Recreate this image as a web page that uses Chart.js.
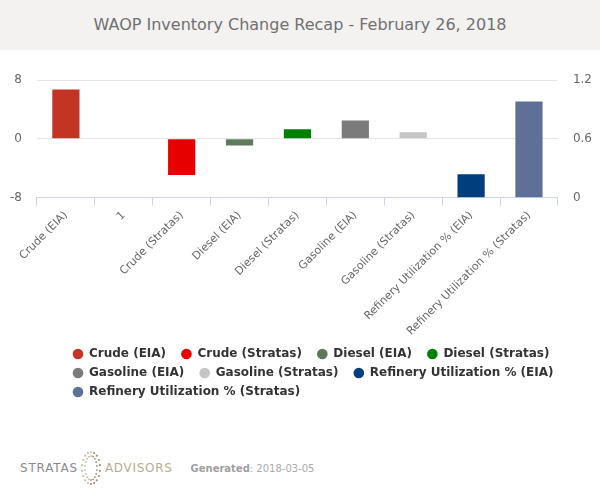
<!DOCTYPE html>
<html>
<head>
<meta charset="utf-8">
<title>WAOP Inventory Change Recap</title>
<script src="https://cdn.jsdelivr.net/npm/chart.js@4.4.1/dist/chart.umd.min.js"></script>
<style>
  body {
    margin: 0;
    width: 600px;
    height: 500px;
    background: #fff;
    font-family: "DejaVu Sans", sans-serif;
    overflow: hidden;
  }
  #header {
    height: 50px;
    line-height: 50px;
    background: #f3f2f1;
    color: #707070;
    font-size: 16px;
    text-align: center;
  }
  #chartWrap {
    position: relative;
    width: 600px;
    height: 362px;
  }
  #footer {
    position: absolute;
    left: 20px;
    top: 450px;
    height: 36px;
    display: flex;
    align-items: center;
    font-size: 12px;
  }
  .brand1 { color: #8a8a8a; letter-spacing: 0.8px; }
  .brand2 { color: #b8ab93; letter-spacing: 0.7px; }
  .gen { color: #aaa; font-size: 10px; margin-left: 18px; }
  .gen b { color: #a0a0a0; }
</style>
</head>
<body>
<div id="header">WAOP Inventory Change Recap - February 26, 2018</div>
<div id="chartWrap"><canvas id="recapChart"></canvas></div>
<div id="footer">
  <span class="brand1">STRATAS</span>
  <svg id="logo" width="22" height="36" viewBox="0 0 22 36" style="margin:0 3px 0 2px"></svg>
  <span class="brand2">ADVISORS</span>
  <span class="gen"><b>Generated</b>: 2018-03-05</span>
</div>

<script>
// Categories on the x axis (the "1" slot is empty in the source chart)
const categories = [
  "Crude (EIA)", "1", "Crude (Stratas)", "Diesel (EIA)", "Diesel (Stratas)",
  "Gasoline (EIA)", "Gasoline (Stratas)",
  "Refinery Utilization % (EIA)", "Refinery Utilization % (Stratas)"
];

// One series per bar, each sits on the category with the same name
const seriesNames = [
  "Crude (EIA)", "Crude (Stratas)", "Diesel (EIA)", "Diesel (Stratas)",
  "Gasoline (EIA)", "Gasoline (Stratas)",
  "Refinery Utilization % (EIA)", "Refinery Utilization % (Stratas)"
];
const seriesValues = [6.7, -4.9, -0.9, 1.3, 2.5, 0.9, 0.24, 0.98];
const seriesAxis = ["y", "y", "y", "y", "y", "y", "y1", "y1"];
const seriesColors = [
  "#c23524", "#e60000", "#5d7a5d", "#008000",
  "#7b7b7b", "#c6c6c6", "#003e7e", "#5f7098"
];

// Tick values for both value axes
const leftTicks = [-8, 0, 8];
const rightTicks = [0, 0.6, 1.2];

// Small dotted ring for the footer logo
(function drawLogo() {
  const svg = document.getElementById("logo");
  let html = "";
  [[9, 16, 1.1], [6, 12, 0.9]].forEach(([rx, ry, r]) => {
    for (let k = 0; k < 18; k++) {
      const a = (k / 18) * Math.PI * 2;
      if (Math.abs(Math.cos(a)) < 0.15) continue; // gaps top and bottom
      const x = 11 + rx * Math.sin(a);
      const y = 18 - ry * Math.cos(a);
      const col = Math.sin(a) > 0 ? "#a1907a" : "#c8bca8";
      html += `<circle cx="${x.toFixed(1)}" cy="${y.toFixed(1)}" r="${r}" fill="${col}"/>`;
    }
  });
  svg.innerHTML = html;
})();

const datasets = seriesNames.map((name, i) => ({
  label: name,
  data: [{ x: name, y: seriesValues[i] }],
  yAxisID: seriesAxis[i],
  backgroundColor: seriesColors[i],
  borderWidth: 0,
  grouped: false,
  categoryPercentage: 1,
  barPercentage: 0.47,
}));

// Start the legend rows further in, like the original
const legendShift = {
  id: "legendShift",
  beforeDraw(chart) {
    if (chart.legend) {
      chart.legend.left = 66;
    }
  },
};

// Chart.js reserves the tick padding on both sides of the labels; keep only the inner one
function trimAxis(axis) {
  axis.width -= axis.options.ticks.padding;
}

const ctx = document.getElementById("recapChart").getContext("2d");
const chart = new Chart(ctx, {
  type: "bar",
  data: { labels: categories, datasets: datasets },
  plugins: [legendShift],
  options: {
    responsive: true,
    maintainAspectRatio: false,
    animation: false,
    layout: {
      padding: { top: 30, left: 10, right: 8, bottom: 4 },
    },
    scales: {
      x: {
        type: "category",
        grid: {
          offset: true,
          drawOnChartArea: false,
          color: "#ccd6eb",
          tickLength: 8,
        },
        border: { color: "#ccd6eb" },
        ticks: {
          autoSkip: false,
          minRotation: 45,
          maxRotation: 45,
          color: "#666",
          font: { family: "DejaVu Sans", size: 11 },
        },
      },
      y: {
        position: "left",
        min: leftTicks[0],
        max: leftTicks[leftTicks.length - 1],
        afterBuildTicks: (axis) => { axis.ticks = leftTicks.map((v) => ({ value: v })); },
        afterFit: trimAxis,
        grid: { color: "#e6e6e6", drawTicks: false },
        border: { display: false },
        ticks: {
          padding: 15,
          color: "#666",
          font: { family: "DejaVu Sans", size: 12 },
        },
      },
      y1: {
        position: "right",
        min: rightTicks[0],
        max: rightTicks[rightTicks.length - 1],
        afterBuildTicks: (axis) => { axis.ticks = rightTicks.map((v) => ({ value: v })); },
        afterFit: trimAxis,
        grid: { drawOnChartArea: false, drawTicks: false },
        border: { display: false },
        ticks: {
          padding: 15,
          color: "#666",
          font: { family: "DejaVu Sans", size: 12 },
        },
      },
    },
    plugins: {
      title: { display: false },
      tooltip: { enabled: false },
      legend: {
        display: true,
        position: "bottom",
        align: "start",
        labels: {
          usePointStyle: true,
          pointStyle: "circle",
          boxWidth: 10,
          boxHeight: 7.5,
          padding: 7,
          color: "#333",
          font: { family: "DejaVu Sans", size: 12, weight: "bold" },
          generateLabels: function (chart) {
            const items = Chart.defaults.plugins.legend.labels.generateLabels(chart);
            items.forEach((item) => { item.text = item.text + "  "; });
            return items;
          },
        },
      },
    },
  },
});
</script>
</body>
</html>
